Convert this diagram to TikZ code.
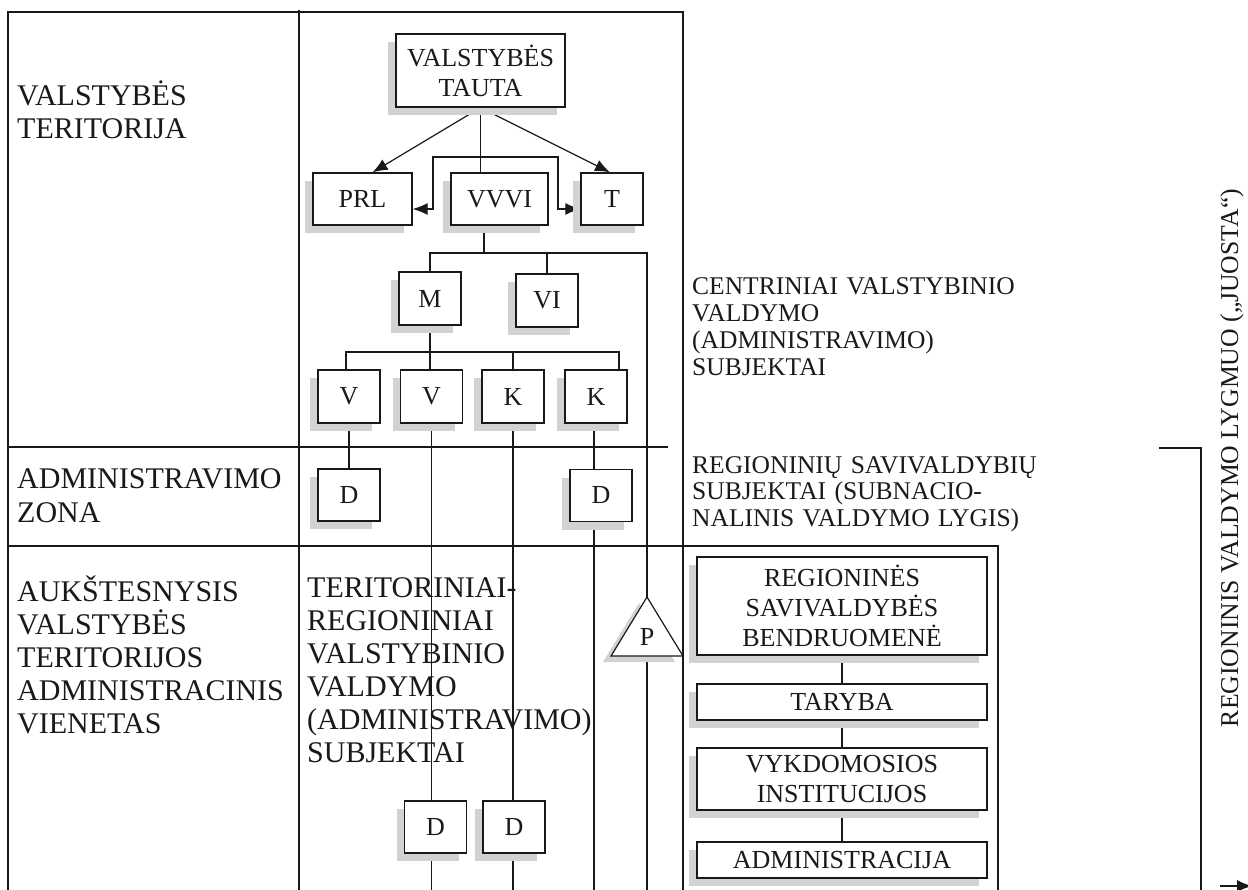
\documentclass[tikz,border=0pt]{standalone}
\usepackage{fontspec}
\setmainfont{Liberation Serif}
\usetikzlibrary{shadows,arrows.meta}
\pgfdeclarelayer{bg}
\pgfsetlayers{bg,main}
\definecolor{shd}{RGB}{210,210,212}
\definecolor{ink}{RGB}{25,25,25}
\tikzset{
  box/.style={draw=ink, fill=white, line width=1.3pt, inner sep=0pt, align=center, text=ink,
    font=\fontsize{26}{30}\selectfont,
    drop shadow={shadow xshift=-8pt, shadow yshift=-8pt, fill=shd, opacity=1}},
  sbox/.style={box, minimum width=62pt, minimum height=53pt},
  wbox/.style={box, minimum width=290pt},
  ln/.style={draw=ink, line width=1.2pt},
  tip/.tip={Latex[length=15pt,width=12pt]},
  arr/.style={ln, -tip},
  bigtxt/.style={anchor=base west, align=left, inner sep=0pt, text=ink, text width=420pt,
    font=\fontsize{30}{33}\selectfont},
  sidetxt/.style={anchor=base west, align=left, inner sep=0pt, text=ink, text width=420pt,
    font=\fontsize{25.5}{27}\selectfont},
}
\begin{document}
\begin{tikzpicture}[x=1pt,y=-1pt]
\useasboundingbox (0,0) rectangle (1248,890);

% ---- grid coordinates
\coordinate (g1) at (8,12);
\coordinate (g2) at (683,12);
\coordinate (g3) at (8,890);
\coordinate (g4) at (683,890);
\coordinate (cd) at (299,10);
\coordinate (cdb) at (299,890);
\coordinate (h1l) at (8,447);
\coordinate (h1r) at (668,447);
\coordinate (h2l) at (8,546);
\coordinate (h2r) at (998,546);
\coordinate (rb) at (998,890);
\coordinate (bt) at (1159,448);
\coordinate (bc) at (1201,448);
\coordinate (bb) at (1201,890);
\coordinate (as) at (1220,886);
\coordinate (ae) at (1252,886);
\coordinate (bot) at (0,890);

% ---- boxes
\node[box, minimum width=169pt, minimum height=73pt] (tauta) at (480.5,70.5) {VALSTYBĖS\\TAUTA};
\node[box, minimum width=99pt, minimum height=52pt] (prl) at (362.5,199) {PRL};
\node[box, minimum width=97pt, minimum height=52pt] (vvvi) at (499.5,199) {VVVI};
\node[box, minimum width=62pt, minimum height=52pt] (t) at (612,199) {T};
\node[sbox] (m) at (430,298.5) {M};
\node[sbox] (vi) at (547,300.5) {VI};
\node[sbox] (v1) at (349,396.5) {V};
\node[sbox] (v2) at (431.5,396.5) {V};
\node[sbox] (k1) at (513,396.5) {K};
\node[sbox] (k2) at (596,396.5) {K};
\node[sbox, minimum height=52pt] (d1) at (349,495) {D};
\node[sbox, minimum height=52pt] (d2) at (601,495.5) {D};
\node[sbox, minimum height=52pt] (d3) at (435.5,827) {D};
\node[sbox, minimum height=52pt] (d4) at (514,827) {D};

\node[wbox, minimum height=98pt] (rsb) at (842,606) {REGIONINĖS\\SAVIVALDYBĖS\\BENDRUOMENĖ};
\node[wbox, minimum height=36pt] (tar) at (842,702) {TARYBA};
\node[wbox, minimum height=62pt] (vyk) at (842,779) {VYKDOMOSIOS\\INSTITUCIJOS};
\node[wbox, minimum height=36pt] (adm) at (842,860) {ADMINISTRACIJA};

% ---- triangle P
\coordinate (papex) at (647,597);
\coordinate (pbase) at (647,656);
\fill[shd] (639,603) -- (603,662) -- (675,662) -- cycle;
\draw[ln, fill=white] (papex) -- (611,656) -- (683,656) -- cycle;
\node[text=ink, font=\fontsize{26}{30}\selectfont, inner sep=0pt] (p) at (647,637) {P};

% ---- texts
\node[bigtxt] (l1) at (17,106) {VALSTYBĖS\\TERITORIJA};
\node[bigtxt] (l2) at (17,489) {ADMINISTRAVIMO\\ZONA};
\node[bigtxt] (l3) at (17,601) {AUKŠTESNYSIS\\VALSTYBĖS\\TERITORIJOS\\ADMINISTRACINIS\\VIENETAS};
\node[bigtxt] (m1) at (307,597) {TERITORINIAI-\\REGIONINIAI\\VALSTYBINIO\\VALDYMO\\(ADMINISTRAVIMO)\\SUBJEKTAI};
\node[sidetxt] (c1) at (692,295) {CENTRINIAI VALSTYBINIO\\VALDYMO\\(ADMINISTRAVIMO)\\SUBJEKTAI};
\node[sidetxt] (c2) at (692,473) {REGIONINIŲ SAVIVALDYBIŲ\\SUBJEKTAI (SUBNACIO-\\NALINIS VALDYMO LYGIS)};
\node[rotate=90, text=ink, inner sep=0pt, font=\fontsize{25.7}{27}\selectfont] (rot) at (1232,458) {REGIONINIS VALDYMO LYGMUO („JUOSTA“)};

% ---- lines behind
\begin{pgfonlayer}{bg}
\draw[ln] (g3) -- (g1) -- (g2) -- (g4);
\draw[ln] (cd) -- (cdb);
\draw[ln] (h1l) -- (h1r);
\draw[ln] (h2l) -- (h2r) -- (rb);
\draw[ln] (bt) -- (bc) -- (bb);
\draw[arr] (as) -- (ae);

\draw[arr] (tauta.south) -- ([xshift=10pt]prl.north);
\draw[arr] (tauta.south) -- ([xshift=-2pt]t.north);
\draw[ln] (tauta.south) -- (tauta.south |- vvvi.north);
\coordinate (bl) at (433,157);
\coordinate (br) at (558,157);
\draw[ln, tip-tip]
  ([yshift=-10pt]prl.east) -| (bl) -- (br) |- ([yshift=-10pt]t.west);

\coordinate (j1) at (484,253);
\coordinate (ptop) at (647,253);
\draw[ln] ([xshift=-15.5pt]vvvi.south) -- (j1);
\draw[ln] (m.north) |- (ptop) -- (papex);
\draw[ln] (vi.north) -- (vi.north |- ptop);
\draw[ln] (pbase) -- (pbase |- bot);

\coordinate (h3) at (619,352);
\draw[ln] (m.south) -- (m.south |- v2.north);
\draw[ln] ([xshift=-3pt]v1.north) |- (h3) -- (h3 |- k2.north);
\draw[ln] (k1.north) -- (k1.north |- h3);
\draw[ln] (v1.south) -- (d1.north);
\draw[ln] (v2.south) -- (v2.south |- bot);
\draw[ln] (k1.south) -- (k1.south |- bot);
\draw[ln] ([xshift=-2pt]k2.south) -- ([xshift=-2pt]k2.south |- bot);

\draw[ln] (rsb.south) -- (tar.north);
\draw[ln] (tar.south) -- (vyk.north);
\draw[ln] (vyk.south) -- (adm.north);
\end{pgfonlayer}
\end{tikzpicture}
\end{document}
